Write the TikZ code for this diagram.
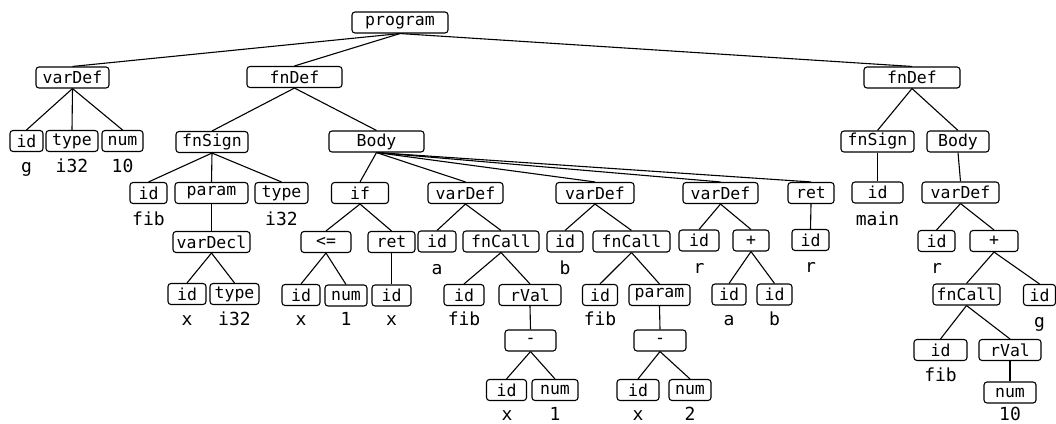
\documentclass[tikz,border=0pt]{standalone}
\usepackage{fontspec}
\newfontfamily\monofnt{DejaVu Sans Mono}
\tikzset{
  bx/.style={draw, rounded corners=3pt, line width=1.1pt, minimum height=21pt, inner sep=0pt,
    font=\monofnt\fontsize{16.5}{19}\selectfont},
  lbl/.style={inner sep=0pt, font=\monofnt\fontsize{18}{21}\selectfont},
  conn/.style={line width=1.1pt}
}
\newcommand\mybox[5]{\node[bx,minimum width=#4pt] (#1) at (#2,#3) {#5};}
\newcommand\mylbl[4]{\node[lbl,anchor=base] (#1) at (#2,#3) {#4};}
\begin{document}
\begin{tikzpicture}[x=1pt,y=-1pt]
\useasboundingbox (0,0) rectangle (1056,423);
% row 0
\mybox{prog}{400}{22.5}{96}{program}
% row 1
\mybox{vd1}{72.5}{77.5}{73}{varDef}
\mybox{fdL}{294.5}{77}{95}{fnDef}
\mybox{fdR}{912}{77.5}{96}{fnDef}
% row 2
\mybox{id1}{26.5}{141}{33}{id}
\mybox{ty1}{72}{141}{52}{type}
\mybox{nu1}{122.5}{141}{41}{num}
\mybox{fsL}{212}{142}{72}{fnSign}
\mybox{bdL}{376.5}{141.5}{95}{Body}
\mybox{fsR}{877.5}{141.5}{73}{fnSign}
\mybox{bdR}{958}{141.5}{62}{Body}
\mylbl{l1}{26.5}{172}{g}
\mylbl{l2}{72}{172}{i32}
\mylbl{l3}{122.5}{172}{10}
% row 3
\mybox{idf}{148.5}{193}{37}{id}
\mybox{par}{211.5}{193}{73}{param}
\mybox{ty2}{281.5}{193}{53}{type}
\mybox{if}{360}{193}{57}{if}
\mybox{vdA}{465.5}{193}{75}{varDef}
\mybox{vdB}{595}{193}{78}{varDef}
\mybox{vdR}{720.5}{193}{75}{varDef}
\mybox{ret}{811}{193}{46}{ret}
\mybox{idm}{877.5}{192.5}{51}{id}
\mybox{vdR2}{960.5}{192.5}{77}{varDef}
\mylbl{l4}{148.5}{225}{fib}
\mylbl{l5}{281.5}{225}{i32}
\mylbl{l6}{877.5}{225}{main}
% row 4
\mybox{vdc}{211.5}{242}{77}{varDecl}
\mybox{le}{326}{242}{50}{<=}
\mybox{ret2}{391.5}{242}{47}{ret}
\mybox{idA}{437}{241.5}{38}{id}
\mybox{fcA}{501}{241.5}{76}{fnCall}
\mybox{idB}{565}{241.5}{36}{id}
\mybox{fcB}{631.5}{241.5}{77}{fnCall}
\mybox{idR}{699}{240.5}{40}{id}
\mybox{plR}{751}{240.5}{36}{+}
\mybox{idT}{810.5}{240}{37}{id}
\mybox{idR2}{936.5}{241}{37}{id}
\mybox{plR2}{994}{241}{48}{+}
\mylbl{l7}{437}{274}{a}
\mylbl{l8}{565}{274}{b}
\mylbl{l9}{699}{273}{r}
\mylbl{l10}{810.5}{272}{r}
\mylbl{l11}{936.5}{273}{r}
% row 5
\mybox{idX}{187}{294}{38}{id}
\mybox{ty3}{234.5}{294}{49}{type}
\mybox{idX2}{301}{295}{38}{id}
\mybox{nu2}{346}{295.5}{42}{num}
\mybox{idX3}{391.5}{295.5}{39}{id}
\mybox{idfA}{464}{295}{40}{id}
\mybox{rvA}{530}{295}{62}{rVal}
\mybox{idfB}{600}{295}{35}{id}
\mybox{paB}{659.5}{295}{61}{param}
\mybox{ida}{729}{294.5}{34}{id}
\mybox{idb}{774.5}{294.5}{35}{id}
\mybox{fcR2}{966.5}{294.5}{67}{fnCall}
\mybox{idg}{1039.5}{295}{32}{id}
\mylbl{l12}{187}{325}{x}
\mylbl{l13}{234.5}{325}{i32}
\mylbl{l14}{301}{325}{x}
\mylbl{l15}{346}{325}{1}
\mylbl{l16}{391.5}{325}{x}
\mylbl{l17}{464}{325}{fib}
\mylbl{l18}{600}{325}{fib}
\mylbl{l19}{729}{325}{a}
\mylbl{l20}{774.5}{325}{b}
\mylbl{l21}{1039.5}{327}{g}
% row 6
\mybox{miA}{530.5}{340.5}{51}{-}
\mybox{miB}{660}{340.5}{52}{-}
\mybox{idfR}{940.5}{350}{53}{id}
\mybox{rvR}{1010}{350}{62}{rVal}
\mylbl{l22}{940.5}{381}{fib}
% row 7
\mybox{idxA}{506.5}{390}{40}{id}
\mybox{n1A}{555}{390}{46}{num}
\mybox{idxB}{638}{390}{42}{id}
\mybox{n2B}{690}{390}{42}{num}
\mybox{nuR}{1010}{392.5}{52}{num}
\mylbl{l23}{507}{420}{x}
\mylbl{l24}{555}{420}{1}
\mylbl{l25}{638}{420}{x}
\mylbl{l26}{690}{420}{2}
\mylbl{l27}{1010}{420}{10}
% connectors
\foreach \p/\c in {prog/vd1, prog/fdL, prog/fdR,
  vd1/id1, vd1/ty1, vd1/nu1,
  fdL/fsL, fdL/bdL,
  fsL/idf, fsL/par, fsL/ty2,
  par/vdc, vdc/idX, vdc/ty3,
  bdL/if, bdL/vdA, bdL/vdB, bdL/vdR, bdL/ret,
  if/le, if/ret2, le/idX2, le/nu2, ret2/idX3,
  vdA/idA, vdA/fcA, fcA/idfA, fcA/rvA, rvA/miA, miA/idxA, miA/n1A,
  vdB/idB, vdB/fcB, fcB/idfB, fcB/paB, paB/miB, miB/idxB, miB/n2B,
  vdR/idR, vdR/plR, plR/ida, plR/idb, ret/idT,
  fdR/fsR, fdR/bdR, fsR/idm, bdR/vdR2, vdR2/idR2, vdR2/plR2,
  plR2/fcR2, plR2/idg, fcR2/idfR, fcR2/rvR, rvR/nuR}
  \draw[conn] (\p.south) -- (\c.north);
\end{tikzpicture}
\end{document}
